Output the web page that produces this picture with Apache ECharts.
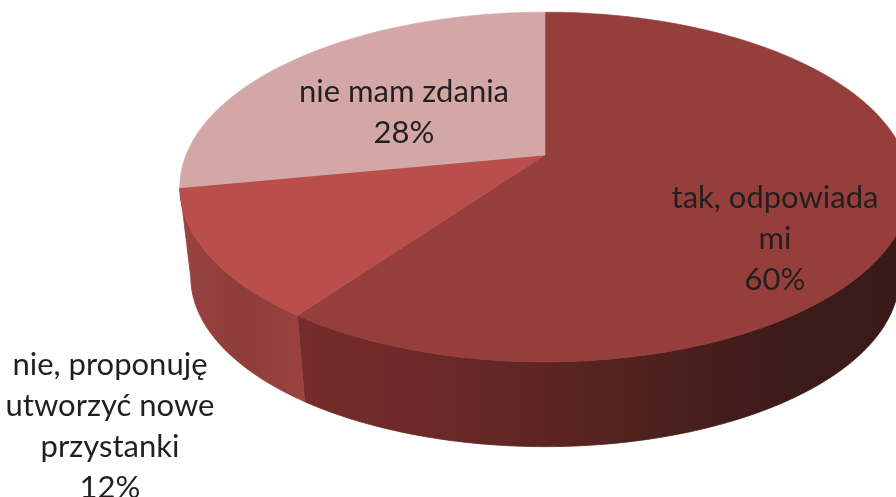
<!DOCTYPE html>
<html>
<head>
<meta charset="utf-8">
<style>html,body{margin:0;padding:0;background:#fff}#c{width:896px;height:497px}</style>
<script src="https://cdn.jsdelivr.net/npm/echarts@6/dist/echarts.min.js"></script>
</head>
<body>
<div id="c"></div>
<script>
const categories = ['tak, odpowiada\nmi', 'nie, proponuję\nutworzyć nowe\nprzystanki', 'nie mam zdania'];
const shares = [60, 12, 28];
const topColors = ['#963e3c', '#b94e4b', '#d4a7a7'];

// Projection of the tilted disc
const CX = 545, CY = 155, RX = 359, RY = 169, K = -0.183, DROP = 91, BOTTOM_SCALE = 0.97;
const WALL_FROM = 100, WALL_TO = 262;
const labelSpots = [[775, 239], [110, 426], [404, 112]];
const wallStops = [
  [[0, '#762c2b'], [0.25, '#6a2927'], [0.6, '#4c201e'], [0.8, '#3c1b19'], [1, '#3a1a18']],
  [[0, '#9a4341'], [0.5, '#8e3c3a'], [1, '#9b4341']],
  null
];

const total = shares.reduce((a, b) => a + b, 0);
function project(deg, bottom) {
  const t = deg * Math.PI / 180, u = Math.sin(t), v = -Math.cos(t), d = 1 + K * v;
  const s = bottom ? BOTTOM_SCALE : 1;
  return [CX + s * RX * u / d, CY + (bottom ? DROP : 0) + s * RY * v / d];
}
function arc(a, b, bottom) {
  const pts = [], n = Math.max(2, Math.ceil(Math.abs(b - a)));
  for (let i = 0; i <= n; i++) pts.push(project(a + (b - a) * i / n, bottom));
  return pts;
}

function renderItem(params, api) {
  const i = params.dataIndex;
  let before = 0;
  for (let j = 0; j < i; j++) before += shares[j];
  const a = before / total * 360, b = (before + api.value(0)) / total * 360;
  const children = [];
  const wa = Math.max(a, WALL_FROM), wb = Math.min(b, WALL_TO);
  if (wallStops[i] && wb > wa) {
    const gradient = new echarts.graphic.LinearGradient(0, 0, 1, 0,
      wallStops[i].map(s => ({ offset: s[0], color: s[1] })));
    children.push({
      type: 'polygon', z2: 1,
      shape: { points: arc(wa, wb, false).concat(arc(wb, wa, true)) },
      style: { fill: gradient, stroke: gradient, lineWidth: 0.8 }
    });
  }
  children.push({
    type: 'polygon', z2: 2,
    shape: { points: [[CX, CY]].concat(arc(a, b, false)) },
    style: { fill: topColors[i], stroke: topColors[i], lineWidth: 0.6 }
  });
  children.push({
    type: 'text', z2: 3,
    x: labelSpots[i][0], y: labelSpots[i][1],
    style: {
      text: categories[i] + '\n' + api.value(0) + '%',
      fill: '#231f1f',
      font: '31px Lato, Carlito, sans-serif',
      lineHeight: 41,
      align: 'center',
      verticalAlign: 'middle'
    }
  });
  return { type: 'group', children };
}

const chart = echarts.init(document.getElementById('c'), null, { renderer: 'canvas' });
chart.setOption({
  animation: false,
  backgroundColor: '#ffffff',
  series: [{
    type: 'custom',
    coordinateSystem: 'none',
    renderItem,
    data: shares.map(v => [v]),
    silent: true
  }]
});
</script>
</body>
</html>
